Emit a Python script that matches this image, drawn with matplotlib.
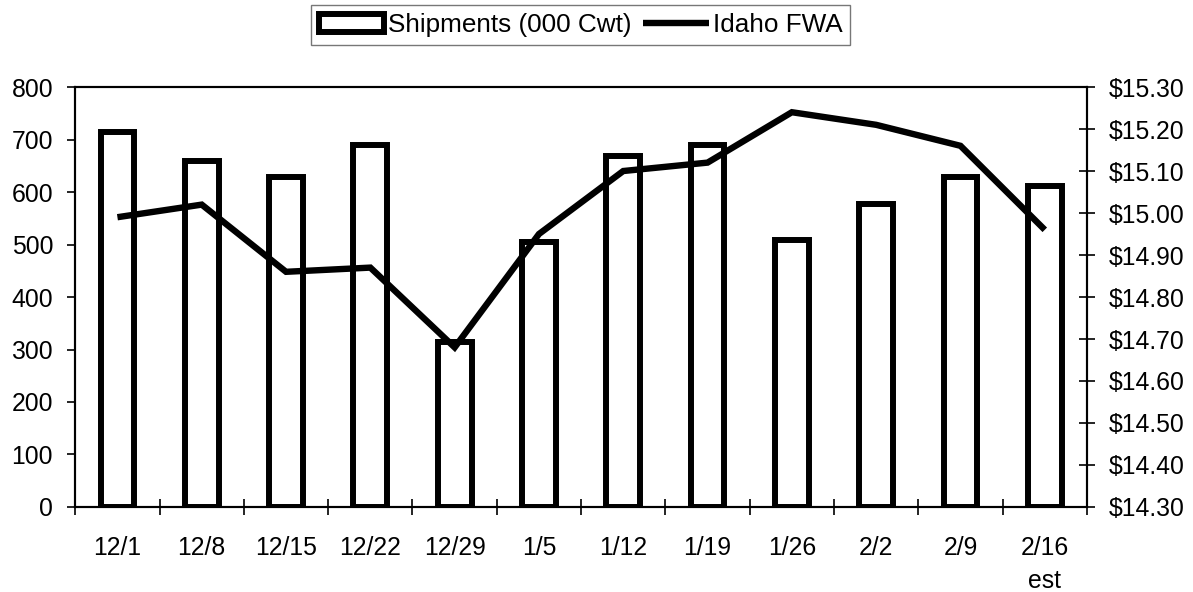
import matplotlib
matplotlib.use("Agg")
import matplotlib.pyplot as plt
from matplotlib.ticker import FuncFormatter, MultipleLocator

plt.rcParams['font.family'] = ['Liberation Sans', 'DejaVu Sans']

categories = ["12/1", "12/8", "12/15", "12/22", "12/29", "1/5", "1/12", "1/19",
              "1/26", "2/2", "2/9", "2/16\nest"]
shipments = [714, 660, 629, 690, 314, 505, 668, 690, 509, 578, 629, 611]
idaho_fwa = [14.99, 15.02, 14.86, 14.87, 14.68, 14.95, 15.10, 15.12, 15.24, 15.21, 15.16, 14.96]

FS = 17.8
LFS = 18.8

fig = plt.figure(figsize=(11.93, 5.92), dpi=100)
ax = fig.add_axes([0.0631, 0.1436, 0.9111 - 0.0631, 0.853 - 0.1436])
ax2 = ax.twinx()

x = list(range(len(categories)))
bars = ax.bar(x, shipments, width=0.40, color='white', edgecolor='black',
              linewidth=4.3, zorder=2, label='Shipments (000 Cwt)')
line, = ax2.plot(x, idaho_fwa, color='black', linewidth=4.6,
                 solid_joinstyle='miter', solid_capstyle='butt', zorder=3,
                 label='Idaho FWA')

ax.set_xlim(-0.5, len(categories) - 0.5)
ax.set_ylim(0, 800)
ax2.set_ylim(14.30, 15.30)
ax.yaxis.set_major_locator(MultipleLocator(100))
ax2.yaxis.set_major_locator(MultipleLocator(0.1))
ax2.yaxis.set_major_formatter(FuncFormatter(lambda v, p: f"${v:.2f}"))

ax.set_xticks(x)
ax.set_xticklabels(categories, linespacing=1.45)
ax.set_xticks([i - 0.5 for i in range(len(categories) + 1)], minor=True)
ax.tick_params(axis='x', which='major', length=0, pad=21, labelsize=FS)
ax.tick_params(axis='x', which='minor', length=11, direction='inout', width=1.2)
ax.tick_params(axis='y', length=6, width=1.2, direction='out', pad=10, labelsize=FS)
ax2.tick_params(axis='y', length=11, width=1.2, direction='inout', pad=10, labelsize=FS)

for a in (ax, ax2):
    for s in a.spines.values():
        s.set_linewidth(1.5)
        s.set_color('black')

ax.set_zorder(1)
ax2.set_zorder(2)
ax2.patch.set_visible(False)

leg = fig.legend([bars, line], ['Shipments (000 Cwt)', 'Idaho FWA'],
                 loc='center', bbox_to_anchor=(0.4866, 0.958), ncol=2,
                 fontsize=LFS, frameon=True, fancybox=False, edgecolor='#555555',
                 handlelength=2.5, handletextpad=0.15, columnspacing=0.45,
                 borderpad=0.3, borderaxespad=0)
leg.get_frame().set_linewidth(1.0)

fig.savefig("out.png", dpi=100)
